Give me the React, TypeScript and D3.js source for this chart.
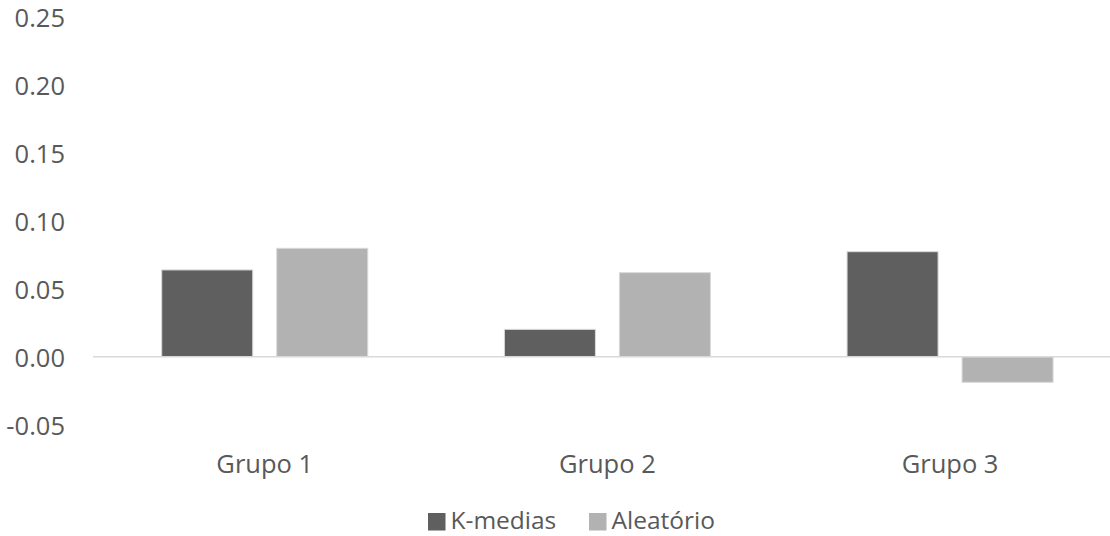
import React from "react";
import * as d3 from "d3";

const categories = ["Grupo 1", "Grupo 2", "Grupo 3"];
const seriesNames = ["K-medias", "Aleatório"];
const kmedias = [0.0638, 0.0201, 0.0772];
const aleatorio = [0.0797, 0.0618, -0.0188];
const yTicks = [-0.05, 0, 0.05, 0.1, 0.15, 0.2, 0.25];
const colors = ["#5f5f5f", "#b2b2b2"];

const W = 1110;
const H = 536;
const FONT = "'Open Sans', sans-serif";
const TEXT = "#595959";

export default function App() {
  const y = d3.scaleLinear().domain([-0.05, 0.25]).range([424.7, 16.7]);
  const x0 = d3.scaleBand<string>().domain(categories).range([93.4, 1121.4]).padding(0);
  const x1 = d3
    .scaleBand<string>()
    .domain(seriesNames)
    .range([0, x0.bandwidth()])
    .paddingInner(0.2087)
    .paddingOuter(0.594);
  const seriesData = [kmedias, aleatorio];
  const fmt = (t: number) => t.toFixed(2);

  return (
    <svg
      width={W}
      height={H}
      style={{ position: "absolute", left: 0, top: 0, background: "#fff" }}
      fontFamily={FONT}
    >
      {yTicks.map((t) => (
        <text
          key={t}
          x={65}
          y={y(t)}
          textAnchor="end"
          dominantBaseline="central"
          fontSize={25.5}
          fill={TEXT}
        >
          {fmt(t)}
        </text>
      ))}
      {categories.map((c, i) =>
        seriesNames.map((s, j) => {
          const v = seriesData[j][i];
          const top = y(Math.max(0, v));
          const bot = y(Math.min(0, v));
          return (
            <rect
              key={c + s}
              x={(x0(c) ?? 0) + (x1(s) ?? 0)}
              y={top}
              width={x1.bandwidth()}
              height={bot - top}
              fill={colors[j]}
              stroke="#d9d9d9"
              strokeWidth={1}
            />
          );
        })
      )}
      <line x1={93} x2={W} y1={y(0)} y2={y(0)} stroke="#d9d9d9" strokeWidth={1.5} />
      {categories.map((c) => (
        <text
          key={c}
          x={(x0(c) ?? 0) + x0.bandwidth() / 2}
          y={463}
          textAnchor="middle"
          dominantBaseline="central"
          fontSize={25.5}
          fill={TEXT}
        >
          {c}
        </text>
      ))}
      <g>
        <rect x={428} y={513} width={17.5} height={17.5} fill={colors[0]} />
        <text x={450.5} y={519.5} dominantBaseline="central" fontSize={24.5} fill={TEXT}>
          {seriesNames[0]}
        </text>
        <rect x={589} y={513} width={17.5} height={17.5} fill={colors[1]} />
        <text x={611.5} y={519.5} dominantBaseline="central" fontSize={24.5} fill={TEXT}>
          {seriesNames[1]}
        </text>
      </g>
    </svg>
  );
}
